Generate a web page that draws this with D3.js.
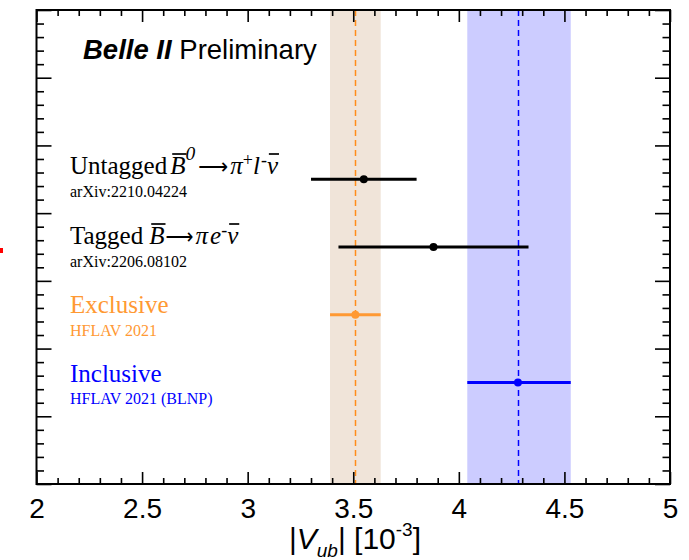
<!DOCTYPE html>
<html><head><meta charset="utf-8">
<script src="https://cdn.jsdelivr.net/npm/d3@7"></script>
<style>html,body{margin:0;padding:0;background:#fff;}</style>
</head><body>
<svg id="chart" width="689" height="560"></svg>
<script>
// ---- data ----
const measurements = ["Untagged", "Tagged", "Exclusive", "Inclusive"];
const central = [3.55, 3.88, 3.51, 4.28];
const lower   = [3.30, 3.43, 3.39, 4.04];
const upper   = [3.80, 4.33, 3.63, 4.53];
const rowPos  = [4.5, 3.5, 2.5, 1.5];
const pointColors = ["#000000", "#000000", "#ff9933", "#0000ff"];
const xTicks = [2, 2.5, 3, 3.5, 4, 4.5, 5];
const subLabels = ["arXiv:2210.04224", "arXiv:2206.08102", "HFLAV 2021", "HFLAV 2021 (BLNP)"];

// ---- layout ----
const L = 36.5, R = 670, T = 10, B = 484;
const svg = d3.select("#chart");
const x = d3.scaleLinear().domain([2, 5]).range([L, R]);
const y = d3.scaleLinear().domain([0, 7]).range([B, T]);

// bands (exclusive, inclusive averages)
const bands = [{i: 2, fill: "#f0e4d9", line: "#ff8c1a"}, {i: 3, fill: "#ccccff", line: "#0000ff"}];
bands.forEach(b => {
  svg.append("rect").attr("x", x(lower[b.i])).attr("y", T)
    .attr("width", x(upper[b.i]) - x(lower[b.i])).attr("height", B - T).attr("fill", b.fill);
});
bands.forEach(b => {
  const cx = Math.round(x(central[b.i])) + 0.5;
  svg.append("line").attr("x1", cx).attr("x2", cx)
    .attr("y1", T).attr("y2", B).attr("stroke", b.line).attr("stroke-width", 1.5)
    .attr("stroke-dasharray", "6,4");
});

// ticks
const xMinor = d3.range(20, 51).map(v => v / 10).filter(v => !xTicks.some(t => Math.abs(t - v) < 1e-9));
const yMajor = d3.range(0, 8);
const yMinor = d3.range(0, 36).map(v => v / 5).filter(v => Math.abs(v - Math.round(v)) > 1e-9);
function axisG(axis, tx, ty) {
  const g = svg.append("g").attr("transform", `translate(${tx},${ty})`).call(axis);
  g.select(".domain").remove();
  g.selectAll("line").attr("stroke", "#000").attr("stroke-width", 1.6);
  return g;
}
const xb = axisG(d3.axisBottom(x).tickValues(xTicks).tickSizeInner(-12).tickSizeOuter(0).tickFormat(d3.format("")), 0, B);
xb.selectAll("text").attr("dy", null).attr("y", 34).attr("font-size", 28)
  .attr("font-family", "Liberation Sans, Arial, sans-serif").attr("fill", "#000");
axisG(d3.axisBottom(x).tickValues(xMinor).tickSizeInner(-6).tickSizeOuter(0).tickFormat(""), 0, B);
axisG(d3.axisTop(x).tickValues(xTicks).tickSizeInner(-12).tickSizeOuter(0).tickFormat(""), 0, T);
axisG(d3.axisTop(x).tickValues(xMinor).tickSizeInner(-6).tickSizeOuter(0).tickFormat(""), 0, T);
axisG(d3.axisLeft(y).tickValues(yMajor).tickSizeInner(-15).tickSizeOuter(0).tickFormat(""), L, 0);
axisG(d3.axisLeft(y).tickValues(yMinor).tickSizeInner(-7.5).tickSizeOuter(0).tickFormat(""), L, 0);
axisG(d3.axisRight(y).tickValues(yMajor).tickSizeInner(-15).tickSizeOuter(0).tickFormat(""), R, 0);
axisG(d3.axisRight(y).tickValues(yMinor).tickSizeInner(-7.5).tickSizeOuter(0).tickFormat(""), R, 0);

// frame
svg.append("rect").attr("x", L).attr("y", T).attr("width", R - L).attr("height", B - T)
  .attr("fill", "none").attr("stroke", "#000").attr("stroke-width", 2);

// error bars and points
measurements.forEach((m, i) => {
  svg.append("line").attr("x1", x(lower[i])).attr("x2", x(upper[i]))
    .attr("y1", y(rowPos[i])).attr("y2", y(rowPos[i]))
    .attr("stroke", pointColors[i]).attr("stroke-width", 3);
  svg.append("circle").attr("cx", x(central[i])).attr("cy", y(rowPos[i])).attr("r", 4)
    .attr("fill", pointColors[i]);
});

// rich text helper
const serif = "Liberation Serif, Times New Roman, serif";
function rich(x0, y0, segs, size, color) {
  let cx = x0;
  segs.forEach(s => {
    const fs = size * (s.scale || 1);
    const t = svg.append("text").attr("x", 0).attr("y", 0)
      .attr("font-size", fs).attr("font-family", s.font || serif)
      .attr("font-style", s.it ? "italic" : "normal").attr("fill", color).text(s.t);
    const w0 = t.node().getComputedTextLength();
    let w = w0;
    let tr = `translate(${cx},${y0 + (s.dy || 0)})`;
    if (s.len) { tr += ` scale(${s.len / w0},1)`; w = s.len; }
    t.attr("transform", tr);
    if (s.bar) {
      const by = y0 - size * 0.8;
      svg.append("line").attr("x1", cx + 2).attr("x2", cx + w + 1).attr("y1", by).attr("y2", by)
        .attr("stroke", color).attr("stroke-width", 1.7);
    }
    cx += w + (s.gap || 0);
  });
}
const mainSize = 25, subSize = 16, labelX = 70;
const sup = (t, dy) => ({t, scale: 0.72, dy});
const arrow = len => ({t: "⟶", len, gap: 2, font: "DejaVu Sans, sans-serif", scale: 0.9});
rich(labelX, 174, [{t: "Untagged ", gap: 3}, {t: "B", it: true, bar: true}, {t: "0", it: true, scale: 0.78, dy: -14, gap: 3},
  arrow(30), {t: "π", it: true}, sup("+", -8), {t: "l", it: true, gap: 1}, sup("-", -8), {t: "ν", it: true, bar: true}], mainSize, "#000");
rich(labelX, 244, [{t: "Tagged ", gap: 6}, {t: "B", it: true, bar: true, gap: 1}, arrow(28), {t: "π", it: true, gap: 2},
  {t: "e", it: true}, sup("-", -8), {t: "ν", it: true, bar: true}], mainSize, "#000");
rich(labelX, 313, [{t: measurements[2]}], mainSize, "#ff9933");
rich(labelX, 382, [{t: measurements[3]}], mainSize, "#0000ff");
const subY = [197, 267, 336, 404];
subLabels.forEach((s, i) => {
  svg.append("text").attr("x", labelX).attr("y", subY[i]).attr("font-size", subSize)
    .attr("font-family", serif).attr("fill", i < 2 ? "#000" : pointColors[i]).text(s);
});

// Belle II Preliminary
const bt = svg.append("text").attr("x", 83).attr("y", 59).attr("font-size", 27.5)
  .attr("font-family", "Liberation Sans, Arial, sans-serif").attr("fill", "#000");
bt.append("tspan").attr("font-weight", "bold").attr("font-style", "italic").text("Belle II");
bt.append("tspan").text(" Preliminary");

// x-axis title
const xt = svg.append("text").attr("x", 355).attr("y", 549).attr("text-anchor", "middle")
  .attr("font-size", 30).attr("font-family", "Liberation Sans, Arial, sans-serif").attr("fill", "#000");
xt.append("tspan").text("|");
xt.append("tspan").attr("font-style", "italic").text("V");
xt.append("tspan").attr("font-size", 19).attr("dy", 8).attr("font-style", "italic").text("ub");
xt.append("tspan").attr("dy", -8).text("| [10");
xt.append("tspan").attr("font-size", 19).attr("dy", -13).text("-3");
xt.append("tspan").attr("dy", 13).text("]");

// small red mark at left edge
svg.append("rect").attr("x", 0).attr("y", 248).attr("width", 3).attr("height", 5).attr("fill", "#ff0000");
</script>
</body></html>
